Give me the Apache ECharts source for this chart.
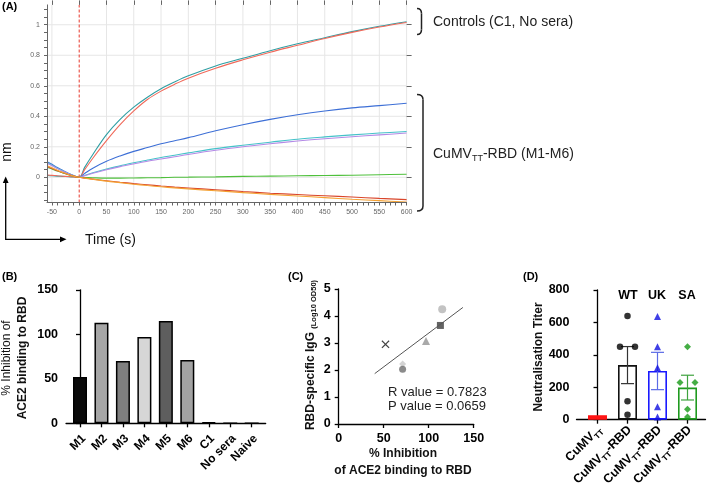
<!DOCTYPE html>
<html><head><meta charset="utf-8">
<script src="https://cdn.jsdelivr.net/npm/echarts@6/dist/echarts.min.js"></script>
<style>html,body{margin:0;padding:0;background:#fff}#c{width:709px;height:490px}</style>
</head><body><div id="c"></div>
<script>
// ---------- Panel A : sensorgram (nm vs time) ----------
const timeA    = [-58,-50,-40,-30,-20,-10,0,10,25,50,75,100,125,150,175,200,250,300,350,400,450,500,550,600];
const ctrlTeal = [0.012,0.010,0.008,0.006,0.004,0.002,0,0.065,0.15,0.28,0.38,0.46,0.525,0.58,0.625,0.665,0.73,0.78,0.83,0.875,0.915,0.955,0.99,1.02];
const ctrlRed  = [0.015,0.013,0.010,0.0075,0.005,0.0025,0,0.05,0.125,0.24,0.345,0.435,0.51,0.565,0.61,0.65,0.715,0.77,0.82,0.865,0.91,0.95,0.985,1.015];
const mBlue    = [0.10,0.085,0.064,0.045,0.027,0.012,0,0.025,0.06,0.105,0.14,0.17,0.195,0.22,0.24,0.26,0.305,0.345,0.38,0.41,0.435,0.455,0.47,0.485];
const mTeal    = [0.095,0.08,0.06,0.042,0.025,0.011,0,0.012,0.03,0.055,0.075,0.095,0.113,0.13,0.145,0.16,0.188,0.21,0.23,0.25,0.265,0.278,0.29,0.30];
const mPurple  = [0.09,0.076,0.057,0.04,0.024,0.01,0,0.011,0.027,0.05,0.07,0.088,0.105,0.12,0.135,0.15,0.177,0.2,0.22,0.238,0.253,0.266,0.278,0.29];
const mGreen   = [0.065,0.055,0.041,0.029,0.017,0.007,0,-0.001,-0.003,-0.005,-0.005,-0.004,-0.003,-0.002,0,0.001,0.003,0.006,0.008,0.01,0.012,0.014,0.017,0.02];
const mRed     = [0.07,0.058,0.043,0.03,0.018,0.008,0,-0.005,-0.012,-0.022,-0.032,-0.041,-0.049,-0.057,-0.064,-0.07,-0.081,-0.093,-0.104,-0.113,-0.121,-0.129,-0.138,-0.146];
const mOrange  = [0.075,0.062,0.046,0.032,0.019,0.008,0,-0.005,-0.013,-0.025,-0.035,-0.045,-0.054,-0.062,-0.069,-0.076,-0.088,-0.1,-0.112,-0.122,-0.133,-0.144,-0.153,-0.162];
const injectionTime = 0;
const aXLabels = [-50,0,50,100,150,200,250,300,350,400,450,500,550,600];
const aYLabels = [0,0.2,0.4,0.6,0.8,1];

// ---------- Panel B : % inhibition ----------
const bCats   = ['M1','M2','M3','M4','M5','M6','C1','No sera','Naive'];
const bValues = [52,113,70,97,115,71,1,0,0];
const bTicks  = [0,50,100,150];

// ---------- Panel C : correlation ----------
const cInhibition = [52,71,71,97,113,115];
const cIgG        = [2.95,2.22,2.03,3.07,3.65,4.25];
const cFitRange   = [40,138];
const cXTicks = [0,50,100,150];
const cYTicks = [0,1,2,3,4,5];

// ---------- Panel D : neutralisation titers ----------
const dCats      = ['CuMV_TT','CuMV_TT-RBD','CuMV_TT-RBD','CuMV_TT-RBD'];
const dControl   = 28;
const wtTiters   = [640,450,450,114,30];
const ukTiters   = [636,450,320,80,16];
const saTiters   = [450,230,230,64,16];
const dYTicks    = [0,200,400,600,800];

// ---- styles (kept separate from data) ----
const FONT = 'Liberation Sans, Arial, Helvetica, sans-serif';
const aColors = ['#2f9ea3','#f0695a','#3d6fd6','#45c2c9','#b48ae6','#4fc03c','#d9462b','#f4a132'];
const bFill   = ['#0a0a0a','#a6a6a6','#7f7f7f','#d6d6d6','#5e5e5e','#a3a3a3','#000','#000','#000'];
const cSym    = ['path://M0,1L1,0L5,4L9,0L10,1L6,5L10,9L9,10L5,6L1,10L0,9L4,5Z','diamond','circle','triangle','rect','circle'];
const cCol    = ['#111','#c9c9c9','#6e6e6e','#939393','#3c3c3c','#b4b4b4'];
const cSize   = [8,7,7,8,7,8];
const wtJit = [0,-0.25,0.25,0,0], ukJit = [0,0,0,0,0], saJit = [0,-0.25,0.25,0,0];

const mean = a => a.reduce((s,v)=>s+v,0)/a.length;
const sem = a => { const m = mean(a); return Math.sqrt(a.reduce((s,v)=>s+(v-m)*(v-m),0)/(a.length-1))/Math.sqrt(a.length); };

// regression for panel C
const mx = mean(cInhibition), my = mean(cIgG);
let sxy=0,sxx=0; cInhibition.forEach((x,i)=>{sxy+=(x-mx)*(cIgG[i]-my); sxx+=(x-mx)*(x-mx);});
const slope = sxy/sxx, icpt = my - slope*mx;

const range = (a,b,s) => { const r=[]; for(let v=a; v<=b+1e-9; v+=s) r.push(Math.round(v*1000)/1000); return r; };
const aXMinor = range(-50,600,10);
const aYMinor = range(-0.15,1.1,0.05);
const A_XMIN = -59, A_XMAX = 600, A_YMIN = -0.165, A_YMAX = 1.13;

const chart = echarts.init(document.getElementById('c'), null, {renderer:'canvas'});

const boldLab = {fontFamily:FONT, fontWeight:'bold', fontSize:12, color:'#000'};
const blackAxis = {show:true, lineStyle:{color:'#000', width:1.3}};
const blackTick = {show:true, length:4, lineStyle:{color:'#000', width:1.3}};

const aSeries = [ctrlTeal,ctrlRed,mBlue,mTeal,mPurple,mGreen,mRed,mOrange].map((arr,k)=>({
  type:'line', xAxisIndex:0, yAxisIndex:0, smooth:0.35, symbol:'none', z:3,
  lineStyle:{color:aColors[k], width:1.1}, data: timeA.map((t,i)=>[t,arr[i]])
}));

// gridlines of panel A (from the tick arrays, drawn through the axes)
const vGrid = aXLabels.filter(v=>v!==injectionTime).flatMap(v=>[[v,A_YMIN],[v,A_YMAX],['-','-']]);
const hGrid = aYLabels.flatMap(v=>[[A_XMIN,v],[A_XMAX,v],['-','-']]);

const errData = [[1,wtTiters],[2,ukTiters],[3,saTiters]].map(([i,a])=>[i, mean(a)-sem(a), mean(a)+sem(a)]);
const errCol = ['#333333','#5b6be6','#3fa33f'];

const braceStyle = {stroke:'#222', lineWidth:1.5, fill:null};
function brace(xl, xr, yt, yb){
  return [
    {type:'bezierCurve', shape:{x1:xl,y1:yt,cpx1:xr,cpy1:yt,x2:xr,y2:yt+5}, style:braceStyle},
    {type:'line', shape:{x1:xr,y1:yt+5,x2:xr,y2:yb-5}, style:braceStyle},
    {type:'bezierCurve', shape:{x1:xr,y1:yb-5,cpx1:xr,cpy1:yb,x2:xl,y2:yb}, style:braceStyle}
  ];
}

const option = {
  animation:false,
  grid:[
    {left:47, top:4.9, width:359.6, height:197.6},
    {left:66.05, top:289.8, width:199.6, height:133.5},
    {left:338.7, top:289, width:135, height:135},
    {left:576.5, top:290, width:129, height:133.3}
  ],
  xAxis:[
    {gridIndex:0, type:'value', min:A_XMIN, max:A_XMAX, z:5,
     axisLine:{show:true, onZero:false, lineStyle:{color:'#666', width:1}},
     axisTick:{show:true, customValues:aXMinor, length:3, lineStyle:{color:'#666'}},
     axisLabel:{customValues:aXLabels, fontSize:7, color:'#666', margin:6, fontFamily:FONT},
     splitLine:{show:false}},
    {gridIndex:0, type:'value', min:A_XMIN, max:A_XMAX, axisLine:{show:false, onZero:false}, z:5,
     axisTick:{show:true, customValues:aXLabels, length:4.5, lineStyle:{color:'#666'}},
     axisLabel:{show:false}, splitLine:{show:false}},
    {gridIndex:1, type:'value', min:-0.65, max:8.65, axisLine:blackAxis, axisTick:Object.assign({customValues:[0,1,2,3,4,5,6,7,8]},blackTick),
     axisLabel:{customValues:[0,1,2,3,4,5,6,7,8], formatter:v=>'{p|'+bCats[v]+'}', rotate:45, margin:6,
       rich:{p:Object.assign({padding:[16,2.5,0,0]},boldLab)}},
     splitLine:{show:false}},
    {gridIndex:2, type:'value', min:0, max:150, interval:50, axisLine:blackAxis, axisTick:blackTick,
     axisLabel:Object.assign({customValues:cXTicks, margin:8},boldLab,{fontSize:12.5}), splitLine:{show:false}},
    {gridIndex:3, type:'value', min:-0.7, max:3.6, axisLine:blackAxis, axisTick:Object.assign({customValues:[0,1,2,3]},blackTick),
     axisLabel:{customValues:[0,1,2,3], rotate:45, margin:6,
       formatter:v=> dCats[v]==='CuMV_TT' ? '{a|CuMV}{s|TT}' : '{a|CuMV}{s|TT}{a|-RBD}',
       rich:{a:{fontFamily:FONT,fontWeight:'bold',fontSize:12.5,color:'#000',padding:[6,0,0,0]}, s:{fontFamily:FONT,fontWeight:'bold',fontSize:8,color:'#000',padding:[15,0,0,0]}}},
     splitLine:{show:false}}
  ],
  yAxis:[
    {gridIndex:0, type:'value', min:A_YMIN, max:A_YMAX, z:5,
     axisLine:{show:true, onZero:false, lineStyle:{color:'#666', width:1}},
     axisTick:{show:true, customValues:aYMinor, length:3, lineStyle:{color:'#666'}},
     axisLabel:{customValues:aYLabels, fontSize:7, color:'#666', margin:7, fontFamily:FONT},
     splitLine:{show:false}},
    {gridIndex:0, type:'value', min:A_YMIN, max:A_YMAX, axisLine:{show:false, onZero:false}, z:5,
     axisTick:{show:true, customValues:aYLabels, length:5, lineStyle:{color:'#666'}},
     axisLabel:{show:false}, splitLine:{show:false}},
    {gridIndex:1, type:'value', min:0, max:150, interval:50, axisLine:blackAxis, axisTick:blackTick,
     axisLabel:Object.assign({customValues:bTicks, margin:8},boldLab,{fontSize:12.5}), splitLine:{show:false}},
    {gridIndex:2, type:'value', min:0, max:5, interval:1, axisLine:blackAxis, axisTick:blackTick,
     axisLabel:Object.assign({customValues:cYTicks, margin:8},boldLab,{fontSize:12.5}), splitLine:{show:false}},
    {gridIndex:3, type:'value', min:0, max:800, interval:200, axisLine:blackAxis, axisTick:blackTick,
     axisLabel:Object.assign({customValues:dYTicks, margin:7},boldLab,{fontSize:12.5}), splitLine:{show:false}}
  ],
  series:[
    {type:'line', xAxisIndex:0, yAxisIndex:0, symbol:'none', silent:true, z:1, connectNulls:false,
     lineStyle:{color:'#e6e6e6', width:1}, data:vGrid},
    {type:'line', xAxisIndex:0, yAxisIndex:0, symbol:'none', silent:true, z:1, connectNulls:false,
     lineStyle:{color:'#e6e6e6', width:1}, data:hGrid},
    {type:'line', xAxisIndex:0, yAxisIndex:0, symbol:'none', silent:true, z:2,
     lineStyle:{color:'#e8372c', width:1, type:[3,2]},
     data:[[injectionTime, A_YMIN],[injectionTime, A_YMAX]]},
    ...aSeries,
    {type:'bar', xAxisIndex:2, yAxisIndex:2, barWidth:14,
     data: bValues.map((v,i)=>({value:[i,v], itemStyle:{color:bFill[i], borderColor:'#000', borderWidth:1.5}}))},
    {type:'line', xAxisIndex:3, yAxisIndex:3, symbol:'none', lineStyle:{color:'#555', width:1},
     data: cFitRange.map(x=>[x, icpt+slope*x])},
    {type:'scatter', xAxisIndex:3, yAxisIndex:3,
     data: cInhibition.map((x,i)=>({value:[x,cIgG[i]], symbol:cSym[i], symbolSize:cSize[i], itemStyle:{color:cCol[i]}}))},
    {type:'bar', xAxisIndex:4, yAxisIndex:4, barWidth:19,
     data:[
       {value:[0,dControl], itemStyle:{color:'#ff1414', borderColor:'#ff1414', borderWidth:1.5}},
       {value:[1,mean(wtTiters)], itemStyle:{color:'#fff', borderColor:'#111', borderWidth:1.6}},
       {value:[2,mean(ukTiters)], itemStyle:{color:'#fff', borderColor:'#1a1aff', borderWidth:1.6}},
       {value:[3,mean(saTiters)], itemStyle:{color:'#fff', borderColor:'#1f9a1f', borderWidth:1.6}}
     ]},
    {type:'custom', xAxisIndex:4, yAxisIndex:4, z:3,
     renderItem:(params, api)=>{
       const x=api.value(0), lo=api.coord([x,api.value(1)]), hi=api.coord([x,api.value(2)]);
       const c=errCol[params.dataIndex], w=6.5;
       const st={stroke:c, lineWidth:1.2};
       return {type:'group', children:[
         {type:'line', shape:{x1:lo[0],y1:lo[1],x2:hi[0],y2:hi[1]}, style:st},
         {type:'line', shape:{x1:lo[0]-w,y1:lo[1],x2:lo[0]+w,y2:lo[1]}, style:st},
         {type:'line', shape:{x1:hi[0]-w,y1:hi[1],x2:hi[0]+w,y2:hi[1]}, style:st}
       ]};
     },
     data: errData},
    {type:'scatter', xAxisIndex:4, yAxisIndex:4, z:4, symbol:'circle', symbolSize:6.5, itemStyle:{color:'#000'},
     data: wtTiters.map((v,i)=>[1+wtJit[i], v])},
    {type:'scatter', xAxisIndex:4, yAxisIndex:4, z:4, symbol:'triangle', symbolSize:7, itemStyle:{color:'#1010e0'},
     data: ukTiters.map((v,i)=>[2+ukJit[i], v])},
    {type:'scatter', xAxisIndex:4, yAxisIndex:4, z:4, symbol:'diamond', symbolSize:7, itemStyle:{color:'#169a16'},
     data: saTiters.map((v,i)=>[3+saJit[i], v])}
  ],
  graphic:[
    {type:'text', x:2, y:7, style:{text:'(A)', font:'bold 11px '+FONT, fill:'#000', verticalAlign:'middle'}},
    {type:'text', x:2, y:277, style:{text:'(B)', font:'bold 11px '+FONT, fill:'#000', verticalAlign:'middle'}},
    {type:'text', x:288, y:277, style:{text:'(C)', font:'bold 11px '+FONT, fill:'#000', verticalAlign:'middle'}},
    {type:'text', x:523, y:277, style:{text:'(D)', font:'bold 11px '+FONT, fill:'#000', verticalAlign:'middle'}},
    {type:'text', x:7, y:152, rotation:Math.PI/2, style:{text:'nm', font:'14px '+FONT, fill:'#111', align:'center', verticalAlign:'middle'}},
    {type:'polyline', shape:{points:[[5.7,181],[5.7,239.3],[62,239.3]]}, style:{stroke:'#000', lineWidth:1.3, fill:null}},
    {type:'polygon', shape:{points:[[5.7,176.5],[2.8,183],[8.6,183]]}, style:{fill:'#000'}},
    {type:'polygon', shape:{points:[[66.5,239.3],[60,236.4],[60,242.2]]}, style:{fill:'#000'}},
    {type:'text', x:85, y:240, style:{text:'Time (s)', font:'14px '+FONT, fill:'#111', verticalAlign:'middle'}},
    ...brace(417, 421.5, 8.5, 34.5),
    ...brace(417, 423, 94.5, 211),
    {type:'text', x:433, y:22, style:{text:'Controls (C1, No sera)', font:'14px '+FONT, fill:'#222', verticalAlign:'middle'}},
    {type:'text', x:433, y:154, style:{text:'{a|CuMV}{s|TT}{a|-RBD (M1-M6)}', verticalAlign:'middle',
       rich:{a:{fontFamily:FONT, fontSize:14, fill:'#222'}, s:{fontFamily:FONT, fontSize:9, fill:'#222', padding:[9,0,0,0]}}}},
    {type:'text', x:7, y:358, rotation:Math.PI/2, style:{text:'% Inhibition of', font:'12px '+FONT, fill:'#111', align:'center', verticalAlign:'middle'}},
    {type:'text', x:23, y:358, rotation:Math.PI/2, style:{text:'ACE2 binding to RBD', font:'bold 12px '+FONT, fill:'#111', align:'center', verticalAlign:'middle'}},
    {type:'text', x:311, y:355, rotation:Math.PI/2, style:{text:'{a|RBD-specific IgG }{s|(Log10 OD50)}', align:'center', verticalAlign:'middle',
       rich:{a:{fontFamily:FONT, fontWeight:'bold', fontSize:12, fill:'#111'}, s:{fontFamily:FONT, fontWeight:'bold', fontSize:7.5, fill:'#111', padding:[6,0,0,0]}}}},
    {type:'text', x:403, y:454, style:{text:'% Inhibition', font:'bold 12px '+FONT, fill:'#111', align:'center', verticalAlign:'middle'}},
    {type:'text', x:403, y:471, style:{text:'of ACE2 binding to RBD', font:'bold 12px '+FONT, fill:'#111', align:'center', verticalAlign:'middle'}},
    {type:'text', x:388, y:392, style:{text:'R value = 0.7823', font:'13px '+FONT, fill:'#222', verticalAlign:'middle'}},
    {type:'text', x:388, y:406, style:{text:'P value = 0.0659', font:'13px '+FONT, fill:'#222', verticalAlign:'middle'}},
    {type:'text', x:539, y:357, rotation:Math.PI/2, style:{text:'Neutralisation Titer', font:'bold 12px '+FONT, fill:'#111', align:'center', verticalAlign:'middle'}},
    {type:'text', x:628, y:296, style:{text:'WT', font:'bold 12.5px '+FONT, fill:'#000', align:'center', verticalAlign:'middle'}},
    {type:'text', x:657, y:296, style:{text:'UK', font:'bold 12.5px '+FONT, fill:'#000', align:'center', verticalAlign:'middle'}},
    {type:'text', x:687, y:296, style:{text:'SA', font:'bold 12.5px '+FONT, fill:'#000', align:'center', verticalAlign:'middle'}}
  ]
};
chart.setOption(option);
</script></body></html>
